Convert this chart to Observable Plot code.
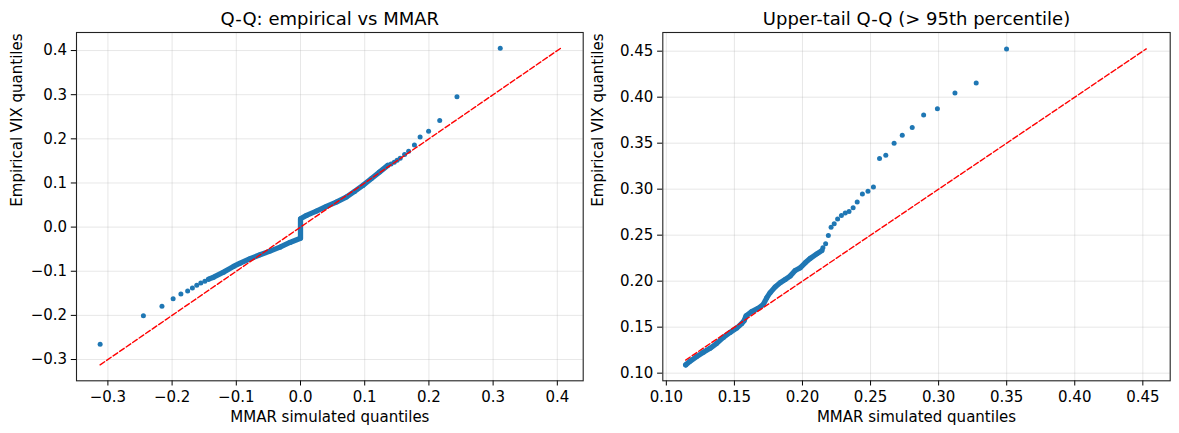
<!DOCTYPE html>
<html>
<head>
<meta charset="utf-8">
<script src="https://cdn.jsdelivr.net/npm/d3@7"></script>
<script src="https://cdn.jsdelivr.net/npm/@observablehq/plot@0.6"></script>
<style>
  body { margin: 0; background: #fff; }
  #wrap { position: relative; width: 1179px; height: 433px; overflow: hidden; }
  #wrap svg { position: absolute; top: 0; font-size: 15px; }
  #wrap svg, #wrap svg text { font-family: "DejaVu Sans" !important; }
</style>
</head>
<body>
<div id="wrap"></div>
<script>
// ---------- Left panel: full Q-Q ----------
const leftTitle = "Q-Q: empirical vs MMAR";
const xLabel = "MMAR simulated quantiles";
const yLabel = "Empirical VIX quantiles";

const leftTailX = [-0.3121, -0.2447, -0.2158, -0.1984, -0.1863, -0.1758, -0.1684, -0.1616, -0.1553, -0.1490,
                    0.1410, 0.1460, 0.1505, 0.1553, 0.1621, 0.1684, 0.1774, 0.1863, 0.1995, 0.2168, 0.2437, 0.3111];
const leftTailY = [-0.2655, -0.2006, -0.1795, -0.1621, -0.1516, -0.1448, -0.1380, -0.1320, -0.1267, -0.1224,
                    0.1430, 0.1470, 0.1515, 0.1561, 0.1644, 0.1719, 0.1863, 0.2044, 0.2172, 0.2413, 0.2956, 0.4050];

const leftBandX = [-0.1432, -0.1354, -0.1199, -0.1044, -0.0941, -0.0786, -0.0630, -0.0475, -0.0320, -0.0165, 0.0, 0.0,
                    0.0093, 0.0248, 0.0403, 0.0558, 0.0713, 0.0842, 0.0972, 0.1101, 0.1230, 0.1359];
const leftBandY = [-0.1179, -0.1134, -0.1020, -0.0892, -0.0816, -0.0718, -0.0627, -0.0544, -0.0454, -0.0348, -0.0252, 0.0189,
                    0.0265, 0.0363, 0.0469, 0.0567, 0.0680, 0.0809, 0.0945, 0.1096, 0.1247, 0.1398];

const leftRef = [-0.3121, 0.4050];
const leftXTicks = [-0.3, -0.2, -0.1, 0.0, 0.1, 0.2, 0.3, 0.4];
const leftYTicks = [-0.3, -0.2, -0.1, 0.0, 0.1, 0.2, 0.3, 0.4];

// ---------- Right panel: upper tail ----------
const rightTitle = "Upper-tail Q-Q (> 95th percentile)";

const rightBandX = [0.1142, 0.1174, 0.1223, 0.1272, 0.1321, 0.1370, 0.1419, 0.1468, 0.1517, 0.1554, 0.1571, 0.1586,
                    0.1627, 0.1676, 0.1713, 0.1738, 0.1762, 0.1799, 0.1836, 0.1873, 0.1909, 0.1946, 0.1983, 0.2020,
                    0.2056, 0.2105, 0.2142];
const rightBandY = [0.1090, 0.1130, 0.1180, 0.1227, 0.1270, 0.1324, 0.1389, 0.1443, 0.1490, 0.1540, 0.1569, 0.1623,
                    0.1670, 0.1706, 0.1749, 0.1821, 0.1875, 0.1936, 0.1983, 0.2019, 0.2055, 0.2116, 0.2145, 0.2199,
                    0.2246, 0.2296, 0.2332];

const rightTailX = [0.2150, 0.2170, 0.2190, 0.2210, 0.2233, 0.2258, 0.2286, 0.2314, 0.2342, 0.2372, 0.2402, 0.2440,
                    0.2481, 0.2521, 0.2566, 0.2612, 0.2673, 0.2733, 0.2806, 0.2890, 0.2991, 0.3120, 0.3276, 0.3499];
const rightTailY = [0.2364, 0.2407, 0.2497, 0.2587, 0.2623, 0.2677, 0.2714, 0.2742, 0.2757, 0.2797, 0.2861, 0.2948,
                    0.2977, 0.3024, 0.3334, 0.3370, 0.3500, 0.3587, 0.3670, 0.3807, 0.3875, 0.4045, 0.4153, 0.4525];

const rightRef = [0.1142, 0.4525];
const rightXTicks = [0.10, 0.15, 0.20, 0.25, 0.30, 0.35, 0.40, 0.45];
const rightYTicks = [0.10, 0.15, 0.20, 0.25, 0.30, 0.35, 0.40, 0.45];

// ---------- drawing ----------
const BLUE = "#1f77b4";
const FONT = "DejaVu Sans";
const fmt = (digits) => (d) => (d < 0 ? "\u2212" : "") + Math.abs(d).toFixed(digits);
const pts = (xs, ys) => xs.map((x, i) => ({x, y: ys[i]}));

function panel(o) {
  const band = pts(o.bandX, o.bandY);
  const tail = pts(o.tailX, o.tailY);
  const ref = o.ref.map(v => ({x: v, y: v}));
  const svg = Plot.plot({
    width: o.width,
    height: 433,
    marginLeft: o.marginLeft,
    marginRight: o.marginRight,
    marginTop: 32,
    marginBottom: 52.7,
    style: {fontFamily: FONT, fontSize: "15px", color: "black", background: "white", overflow: "visible"},
    x: {domain: o.xDomain, ticks: o.xTicks, tickFormat: fmt(o.digits), tickSize: 5.2, tickPadding: 5.3, label: null},
    y: {domain: o.yDomain, ticks: o.yTicks, tickFormat: fmt(o.digits), tickSize: 5.2, tickPadding: 4.2, label: null},
    marks: [
      Plot.gridX(o.xTicks, {stroke: "#b0b0b0", strokeOpacity: 0.3, strokeWidth: 1}),
      Plot.gridY(o.yTicks, {stroke: "#b0b0b0", strokeOpacity: 0.3, strokeWidth: 1}),
      Plot.line(band, {x: "x", y: "y", stroke: BLUE, strokeWidth: 5.3, strokeLinecap: "round", strokeLinejoin: "round"}),
      Plot.dot(band, {x: "x", y: "y", r: 2.5, fill: BLUE, stroke: null}),
      Plot.dot(tail, {x: "x", y: "y", r: 2.5, fill: BLUE, stroke: null}),
      Plot.line(ref, {x: "x", y: "y", stroke: "red", strokeWidth: 1.4, strokeDasharray: "5.5,2.4"}),
      Plot.frame({stroke: "#222", strokeWidth: 1.1}),
      Plot.text([o.title], {frameAnchor: "top", lineAnchor: "bottom", dy: -8, fontSize: 18, fontFamily: FONT, fill: "black"}),
      Plot.text([xLabel], {frameAnchor: "bottom", lineAnchor: "bottom", dy: 41.4, fontSize: 15, fontFamily: FONT, fill: "black"}),
      Plot.text([yLabel], {frameAnchor: "left", lineAnchor: "middle", rotate: -90, dx: o.yLabelDx, fontSize: 15, fontFamily: FONT, fill: "black"})
    ]
  });
  svg.style.left = o.left + "px";
  return svg;
}

const wrap = document.getElementById("wrap");
wrap.appendChild(panel({
  left: 0, width: 590, marginLeft: 76, marginRight: 7.3,
  xDomain: [-0.3489, 0.4403], yDomain: [-0.3482, 0.4409],
  xTicks: leftXTicks, yTicks: leftYTicks, digits: 1,
  bandX: leftBandX, bandY: leftBandY, tailX: leftTailX, tailY: leftTailY,
  ref: leftRef, title: leftTitle, yLabelDx: -59.1
}));
wrap.appendChild(panel({
  left: 590, width: 589, marginLeft: 72.3, marginRight: 9.3,
  xDomain: [0.0974, 0.4701], yDomain: [0.0917, 0.4703],
  xTicks: rightXTicks, yTicks: rightYTicks, digits: 2,
  bandX: rightBandX, bandY: rightBandY, tailX: rightTailX, tailY: rightTailY,
  ref: rightRef, title: rightTitle, yLabelDx: -64.4
}));
</script>
</body>
</html>
